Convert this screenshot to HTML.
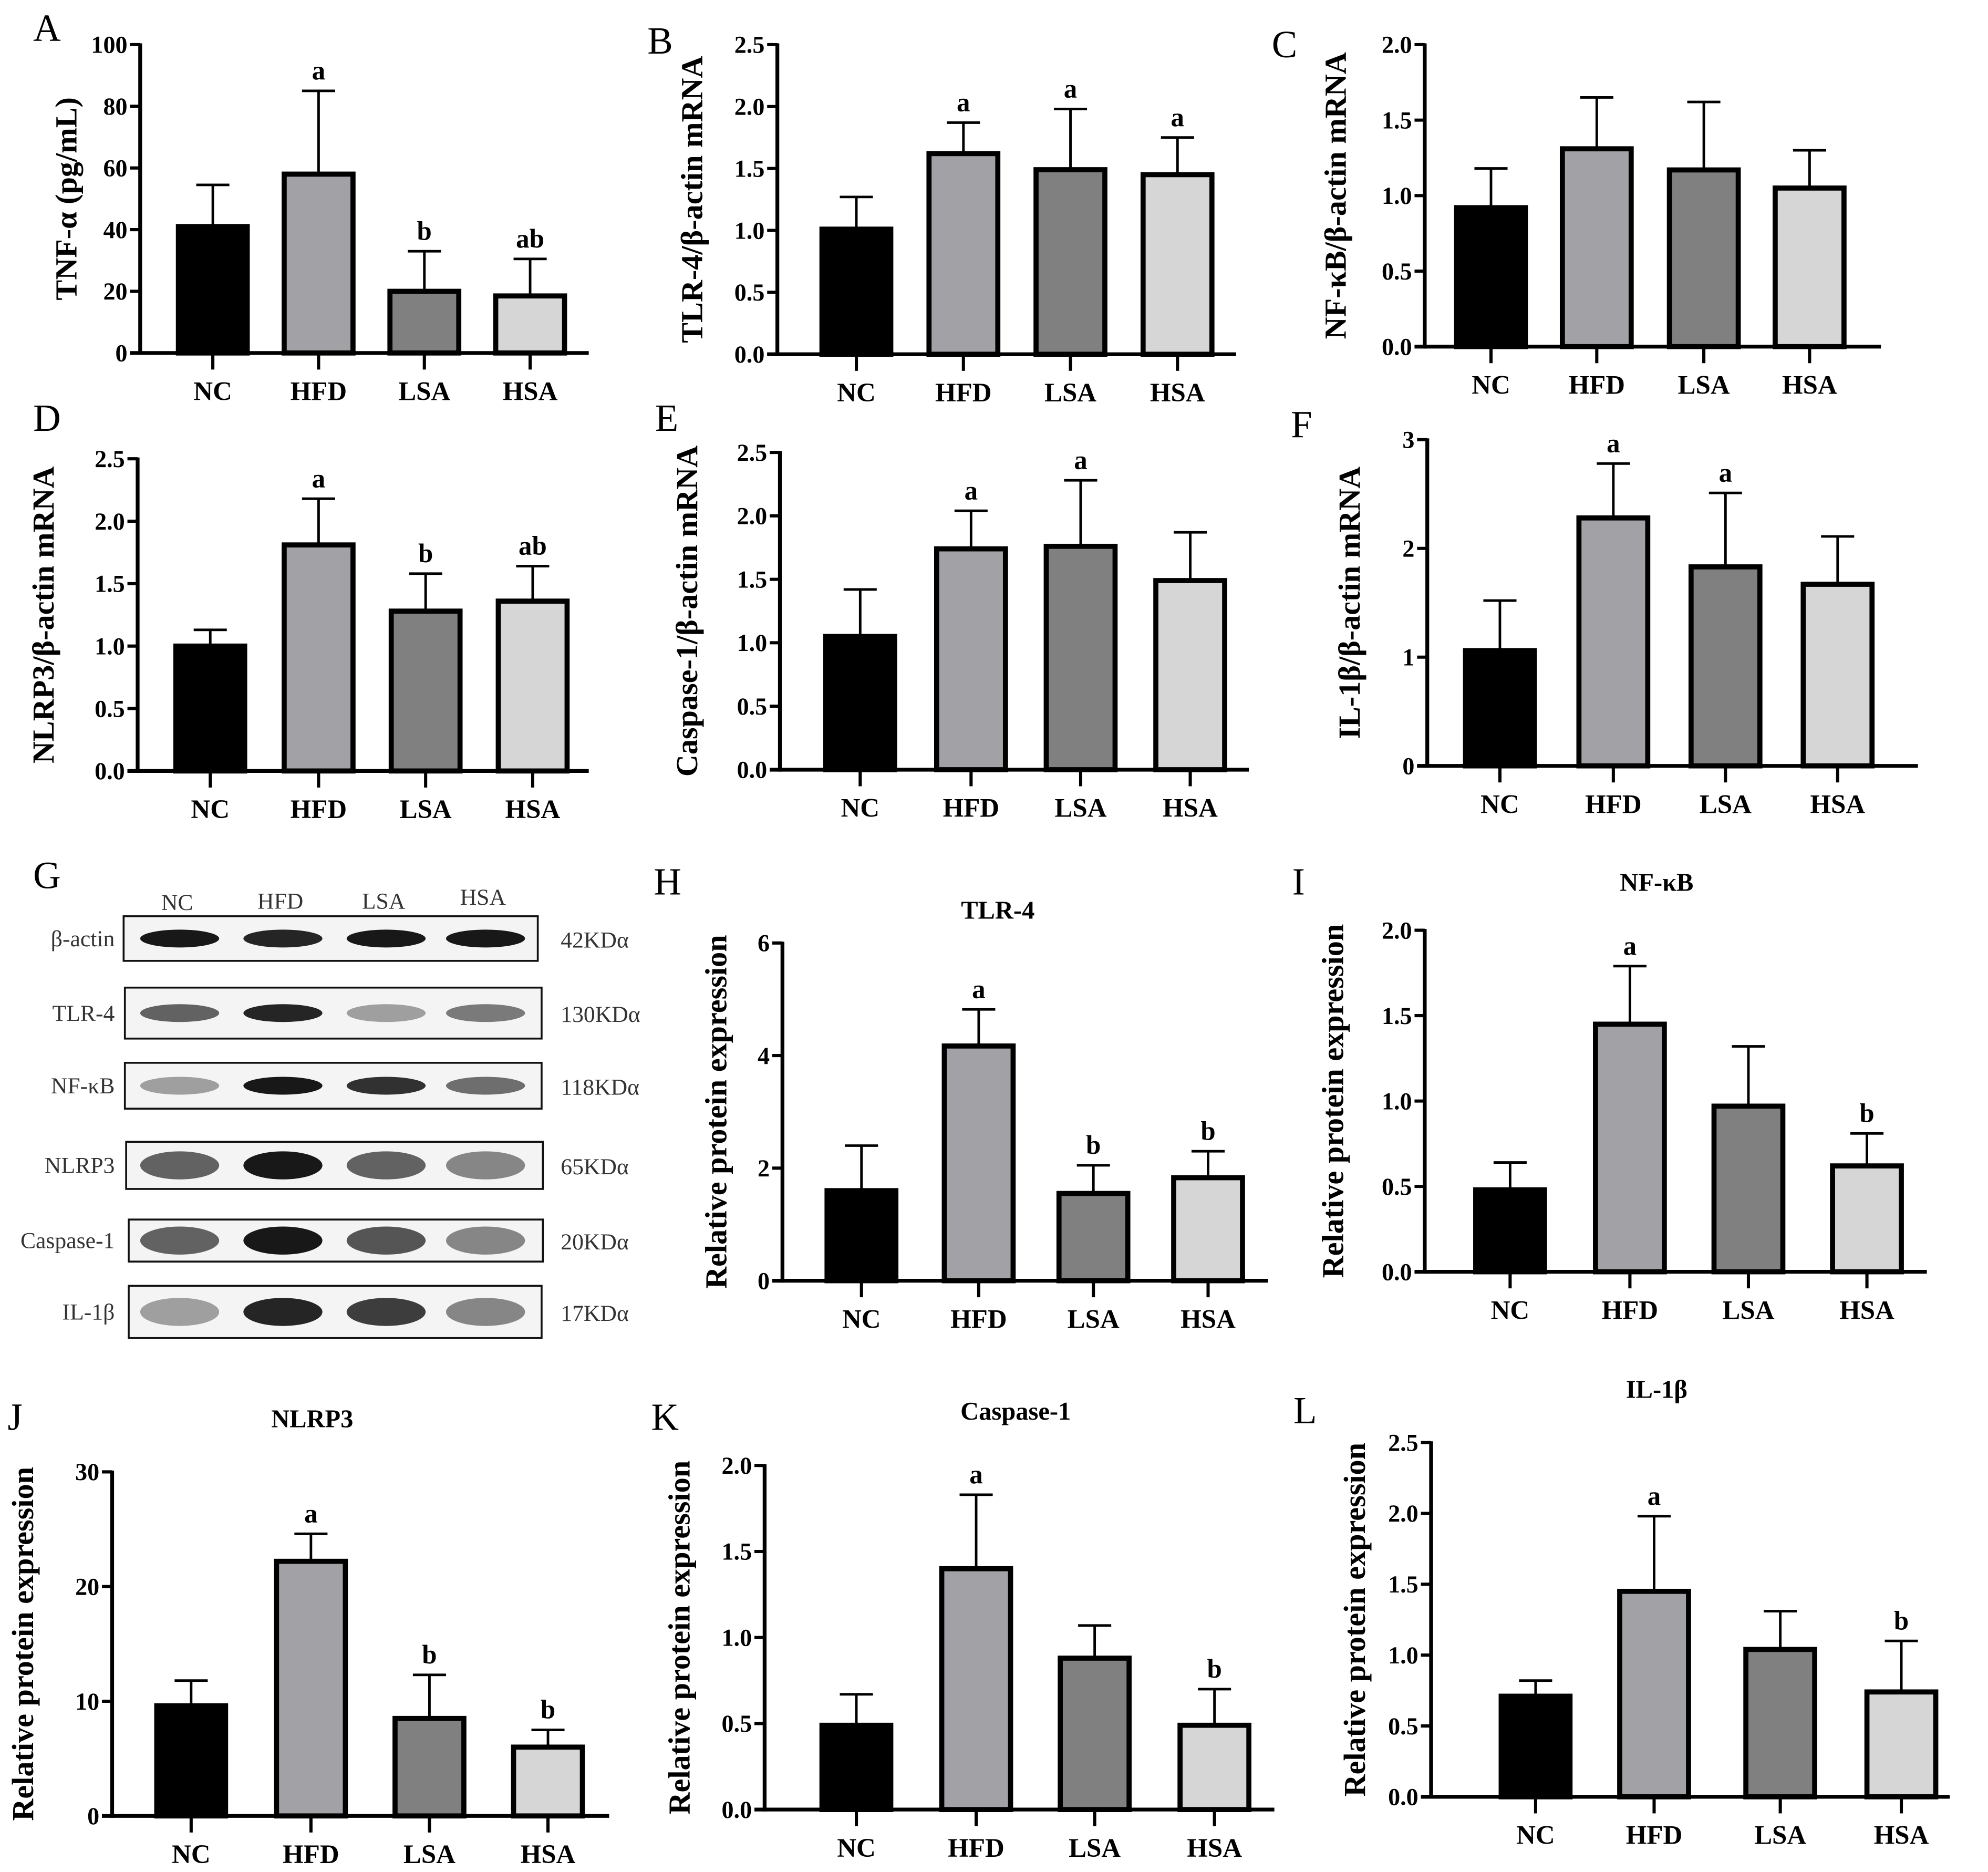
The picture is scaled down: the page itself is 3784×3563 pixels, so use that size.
<!DOCTYPE html>
<html><head><meta charset="utf-8"><style>
html,body{margin:0;padding:0;background:#fff}
svg{display:block}
text{font-family:"Liberation Serif",serif}
.tk{font-weight:bold;font-size:19px}
.cat{font-weight:bold;font-size:21px}
.yl{font-weight:bold;font-size:24px}
.pl{font-size:30px}
.sig{font-weight:bold;font-size:21px}
.ttl{font-weight:bold;font-size:20px}
.wb{font-size:18px;fill:#333}
</style></head><body>
<svg id="fig" width="3784" height="3563" viewBox="0 0 1560 1469" preserveAspectRatio="none" xmlns="http://www.w3.org/2000/svg"></svg>
<script>
const categories=["NC","HFD","LSA","HSA"];
const colors=["#000000","#a1a1a6","#808080","#d6d6d6"];
const valsA=[41,58,20,18.5], errA=[54.5,85,33,30.5], sigA=["","a","b","ab"], ticksA=[0,20,40,60,80,100];
const valsB=[1.01,1.62,1.49,1.45], errB=[1.27,1.87,1.98,1.75], sigB=["","a","a","a"], ticksB=["0.0","0.5","1.0","1.5","2.0","2.5"];
const valsC=[0.92,1.31,1.17,1.05], errC=[1.18,1.65,1.62,1.30], sigC=["","","",""], ticksC=["0.0","0.5","1.0","1.5","2.0"];
const valsD=[1.0,1.81,1.28,1.36], errD=[1.13,2.18,1.58,1.64], sigD=["","a","b","ab"], ticksD=["0.0","0.5","1.0","1.5","2.0","2.5"];
const valsE=[1.05,1.74,1.76,1.49], errE=[1.42,2.04,2.28,1.87], sigE=["","a","a",""], ticksE=["0.0","0.5","1.0","1.5","2.0","2.5"];
const valsF=[1.06,2.28,1.83,1.67], errF=[1.52,2.78,2.51,2.11], sigF=["","a","a",""], ticksF=[0,1,2,3];
const valsH=[1.6,4.17,1.55,1.83], errH=[2.4,4.82,2.05,2.3], sigH=["","a","b","b"], ticksH=[0,2,4,6];
const valsI=[0.48,1.45,0.97,0.62], errI=[0.64,1.79,1.32,0.81], sigI=["","a","","b"], ticksI=["0.0","0.5","1.0","1.5","2.0"];
const valsJ=[9.6,22.2,8.5,6.0], errJ=[11.8,24.6,12.3,7.5], sigJ=["","a","b","b"], ticksJ=[0,10,20,30];
const valsK=[0.49,1.40,0.88,0.49], errK=[0.67,1.83,1.07,0.70], sigK=["","a","","b"], ticksK=["0.0","0.5","1.0","1.5","2.0"];
const valsL=[0.71,1.45,1.04,0.74], errL=[0.82,1.98,1.31,1.10], sigL=["","a","","b"], ticksL=["0.0","0.5","1.0","1.5","2.0","2.5"];

const NS="http://www.w3.org/2000/svg";
const svg=document.getElementById('fig');
function mk(tag,attrs,parent,txt){const e=document.createElementNS(NS,tag);for(const k in attrs)e.setAttribute(k,attrs[k]);if(txt!==undefined)e.textContent=txt;(parent||svg).appendChild(e);return e;}

function panel(id,o,vals,errs,sigs,ticks){
  const g=mk('g',{});
  
  
  const tmax=parseFloat(ticks[ticks.length-1]);
  const y=v=>o.y0-(v/tmax)*(o.y0-o.yTop);
  const pl=mk('text',{x:o.lx,y:o.ly,class:'pl'},g,id.toUpperCase());
  
  
  if(o.title){const t=mk('text',{x:o.tx,y:o.ty,class:'ttl','text-anchor':'middle'},g,o.title);
    
    }
  vals.forEach((v,i)=>{
    const cx=o.cx[i], w=54;
    const b=mk('rect',{x:cx-w/2,y:y(v),width:w,height:o.y0-y(v),fill:colors[i],stroke:'#000','stroke-width':4},g);
    
    
    const e=mk('path',{d:`M${cx} ${y(v)}V${y(errs[i])}M${cx-13} ${y(errs[i])}H${cx+13}`,stroke:'#000','stroke-width':2,fill:'none'},g);
    
    
    if(sigs[i]){const s=mk('text',{x:cx,y:y(errs[i])-9,class:'sig','text-anchor':'middle'},g,sigs[i]);
      
      }
    mk('line',{x1:cx,y1:o.y0,x2:cx,y2:o.y0+13,stroke:'#000','stroke-width':2.5},g);
    const c=mk('text',{x:cx,y:o.y0+37,class:'cat','text-anchor':'middle'},g,categories[i]);
    
    
  });
  const ya=mk('line',{x1:o.ax,y1:o.yTop-1,x2:o.ax,y2:o.y0+1.5,stroke:'#000','stroke-width':3},g);
  
  
  const xa=mk('line',{x1:o.ax-8,y1:o.y0,x2:o.xend,y2:o.y0,stroke:'#000','stroke-width':3},g);
  
  
  ticks.forEach(t=>{
    const v=parseFloat(t);
    mk('line',{x1:o.ax-8,y1:y(v),x2:o.ax,y2:y(v),stroke:'#000','stroke-width':2.5},g);
    const tl=mk('text',{x:o.ax-10,y:y(v)+6.5,class:'tk','text-anchor':'end'},g,String(t));
    
    
  });
  const yl=mk('text',{x:0,y:0,class:'yl','text-anchor':'middle',transform:`translate(${o.ylx},${(o.y0+o.yTop)/2}) rotate(-90)`},g,o.ylabel);
  
  
}
const RP="Relative protein expression";
panel('a',{ax:110,y0:277,yTop:35,xend:462,cx:[167,250,333,416],lx:26,ly:32,ylx:60,ylabel:'TNF-α (pg/mL)'},valsA,errA,sigA,ticksA);
panel('b',{ax:610,y0:278,yTop:35,xend:970,cx:[672,756,840,924],lx:508,ly:42,ylx:551,ylabel:'TLR-4/β-actin mRNA'},valsB,errB,sigB,ticksB);
panel('c',{ax:1118,y0:272,yTop:35,xend:1476,cx:[1170,1253,1337,1420],lx:998,ly:45,ylx:1056,ylabel:'NF-κB/β-actin mRNA'},valsC,errC,sigC,ticksC);
panel('d',{ax:108,y0:605,yTop:360,xend:462,cx:[165,250,334,418],lx:26,ly:338,ylx:42,ylabel:'NLRP3/β-actin mRNA'},valsD,errD,sigD,ticksD);
panel('e',{ax:612,y0:604,yTop:355,xend:980,cx:[675,762,848,934],lx:514,ly:338,ylx:547,ylabel:'Caspase-1/β-actin mRNA'},valsE,errE,sigE,ticksE);
panel('f',{ax:1120,y0:601,yTop:345,xend:1505,cx:[1177,1266,1354,1442],lx:1013,ly:343,ylx:1067,ylabel:'IL-1β/β-actin mRNA'},valsF,errF,sigF,ticksF);
panel('h',{ax:614,y0:1005,yTop:740,xend:995,cx:[676,768,858,948],lx:513,ly:702,ylx:570,ylabel:RP,title:'TLR-4',tx:783,ty:721},valsH,errH,sigH,ticksH);
panel('i',{ax:1118,y0:998,yTop:730,xend:1512,cx:[1185,1279,1372,1465],lx:1014,ly:702,ylx:1054,ylabel:RP,title:'NF-κB',tx:1300,ty:699},valsI,errI,sigI,ticksI);
panel('j',{ax:88,y0:1425,yTop:1155,xend:478,cx:[150,244,337,430],lx:6,ly:1122,ylx:26,ylabel:RP,title:'NLRP3',tx:245,ty:1120},valsJ,errJ,sigJ,ticksJ);
panel('k',{ax:600,y0:1420,yTop:1150,xend:1000,cx:[672,766,859,953],lx:511,ly:1122,ylx:541,ylabel:RP,title:'Caspase-1',tx:797,ty:1114},valsK,errK,sigK,ticksK);
panel('l',{ax:1123,y0:1410,yTop:1132,xend:1530,cx:[1205,1298,1397,1492],lx:1015,ly:1117,ylx:1071,ylabel:RP,title:'IL-1β',tx:1300,ty:1097},valsL,errL,sigL,ticksL);

const wbRows=["β-actin","TLR-4","NF-κB","NLRP3","Caspase-1","IL-1β"];
const wbKda=["42KDα","130KDα","118KDα","65KDα","20KDα","17KDα"];
const wbIntensity=[[0.9,0.85,0.9,0.9],[0.6,0.85,0.35,0.5],[0.35,0.9,0.8,0.55],[0.6,0.9,0.6,0.45],[0.6,0.9,0.65,0.45],[0.35,0.85,0.75,0.45]];
const wbBoxes=[[97,719,422,754],[98,775,425,815],[98,834,425,870],[99,896,426,933],[101,957,426,990],[101,1009,425,1050]];
const lanes=[139,220,301,379];
const G=mk('g',{});


mk('text',{x:26,y:697,class:'pl'},G,'G');
["NC","HFD","LSA","HSA"].forEach((l,i)=>{const t=mk('text',{x:lanes[i],y:[714,713,713,710][i],class:'wb','text-anchor':'middle'},G,l);
  
  });
wbRows.forEach((r,k)=>{
  const [x1,y1,x2,y2]=wbBoxes[k], cy=(y1+y2)/2;
  const fill=mk('rect',{x:x1,y:y1,width:x2-x1,height:y2-y1,fill:'#f4f4f4',stroke:'#111','stroke-width':1.5},G);
  
  
  lanes.forEach((cx,i)=>{const a=wbIntensity[k][i];
    mk('ellipse',{cx:cx+2,cy:cy,rx:31,ry:k>=3?11:7,fill:'#000','fill-opacity':a},G);});
  const t=mk('text',{x:90,y:cy+6,class:'wb','text-anchor':'end'},G,r);
  
  
  const kd=mk('text',{x:440,y:cy+7,class:'wb'},G,wbKda[k]);
  
  
});
</script>
</body></html>
